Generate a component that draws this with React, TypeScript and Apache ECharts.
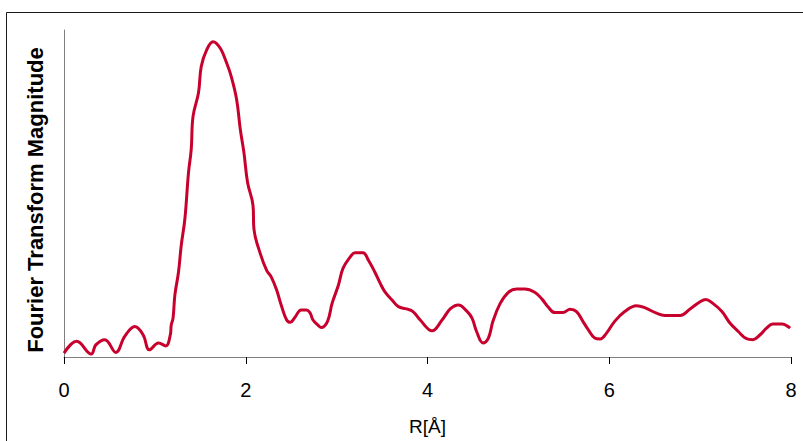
import React, { useEffect, useRef } from "react";
import * as echarts from "echarts";

const rValues = [
  0.0, 0.14, 0.3, 0.35, 0.45, 0.57, 0.67, 0.78, 0.87, 0.94, 1.04, 1.12, 1.17, 1.18, 1.2, 1.22, 1.26, 1.29,
  1.33, 1.37, 1.4, 1.42, 1.48, 1.51, 1.57, 1.64, 1.72, 1.79, 1.84, 1.9, 1.94, 1.98, 2.02, 2.08, 2.09, 2.16,
  2.23, 2.28, 2.34, 2.39, 2.45, 2.49, 2.54, 2.61, 2.67, 2.71, 2.74, 2.8, 2.83, 2.9, 2.95, 3.02, 3.07, 3.15,
  3.2, 3.29, 3.35, 3.42, 3.48, 3.53, 3.61, 3.68, 3.77, 3.84, 3.92, 4.05, 4.16, 4.25, 4.34, 4.43, 4.49, 4.54,
  4.61, 4.67, 4.72, 4.8, 4.89, 4.98, 5.07, 5.18, 5.26, 5.33, 5.4, 5.49, 5.57, 5.64, 5.71, 5.77, 5.84, 5.9,
  5.97, 6.06, 6.17, 6.3, 6.39, 6.52, 6.61, 6.78, 6.89, 7.0, 7.06, 7.14, 7.24, 7.33, 7.42, 7.51, 7.58, 7.66,
  7.73, 7.8, 7.9, 7.99,
];

const magnitude = [
  0.012, 0.048, 0.009, 0.037, 0.053, 0.014, 0.064, 0.093, 0.068, 0.022, 0.043, 0.034, 0.068, 0.098, 0.119,
  0.189, 0.26, 0.341, 0.422, 0.564, 0.635, 0.736, 0.808, 0.888, 0.939, 0.964, 0.944, 0.899, 0.858, 0.787,
  0.696, 0.625, 0.534, 0.463, 0.392, 0.316, 0.265, 0.245, 0.205, 0.159, 0.113, 0.106, 0.121, 0.144, 0.144,
  0.134, 0.113, 0.096, 0.09, 0.109, 0.164, 0.22, 0.271, 0.306, 0.319, 0.319, 0.296, 0.26, 0.225, 0.2, 0.174,
  0.154, 0.147, 0.139, 0.113, 0.08, 0.113, 0.147, 0.159, 0.141, 0.119, 0.078, 0.043, 0.058, 0.109, 0.164,
  0.198, 0.208, 0.208, 0.198, 0.177, 0.152, 0.136, 0.136, 0.146, 0.139, 0.109, 0.083, 0.058, 0.055, 0.073,
  0.109, 0.139, 0.157, 0.151, 0.134, 0.127, 0.127, 0.147, 0.169, 0.176, 0.164, 0.139, 0.103, 0.078, 0.056,
  0.053, 0.068, 0.088, 0.101, 0.101, 0.088,
];

const xTicks = [0, 2, 4, 6, 8];
const xTitle = "R[Å]";
const yTitle = "Fourier Transform Magnitude";

export default function App() {
  const ref = useRef<HTMLDivElement>(null);
  useEffect(() => {
    document.body.style.margin = "0";
    const chart = echarts.init(ref.current!, null, { renderer: "svg" });
    const data = rValues.map((r, i) => [r, magnitude[i]]);
    chart.setOption({
      animation: false,
      backgroundColor: "#ffffff",
      textStyle: { fontFamily: "Liberation Sans, Arial, sans-serif" },
      grid: { left: 64, top: 30, right: 12, bottom: 82 },
      graphic: [
        {
          type: "rect",
          shape: { x: 6.5, y: 12.5, width: 900, height: 500 },
          style: { fill: "none", stroke: "#1a1a1a", lineWidth: 1 },
          silent: true,
        },
        {
          type: "text",
          x: 35,
          y: 200,
          rotation: Math.PI / 2,
          silent: true,
          style: {
            text: yTitle,
            fill: "#000",
            font: "bold 22px 'Liberation Sans', Arial, sans-serif",
            align: "center",
            verticalAlign: "middle",
          },
        },
      ],
      xAxis: {
        type: "value",
        min: xTicks[0],
        max: xTicks[xTicks.length - 1],
        interval: 2,
        name: xTitle,
        nameLocation: "middle",
        nameGap: 60,
        nameTextStyle: { fontSize: 19, color: "#000" },
        axisLine: { show: true, lineStyle: { color: "#808080", width: 1 } },
        axisTick: { show: true, length: 7, lineStyle: { color: "#000", width: 1 } },
        axisLabel: { fontSize: 20, color: "#000", margin: 23 },
        splitLine: { show: false },
      },
      yAxis: {
        type: "value",
        min: 0,
        max: 1,
        axisLine: { show: true, lineStyle: { color: "#808080", width: 1 } },
        axisTick: { show: false },
        axisLabel: { show: false },
        splitLine: { show: false },
      },
      series: [
        {
          type: "line",
          data,
          showSymbol: false,
          smooth: 0.4,
          lineStyle: { color: "#c8002d", width: 3 },
        },
      ],
    });
    return () => chart.dispose();
  }, []);
  return <div ref={ref} style={{ width: 803, height: 441 }} />;
}
